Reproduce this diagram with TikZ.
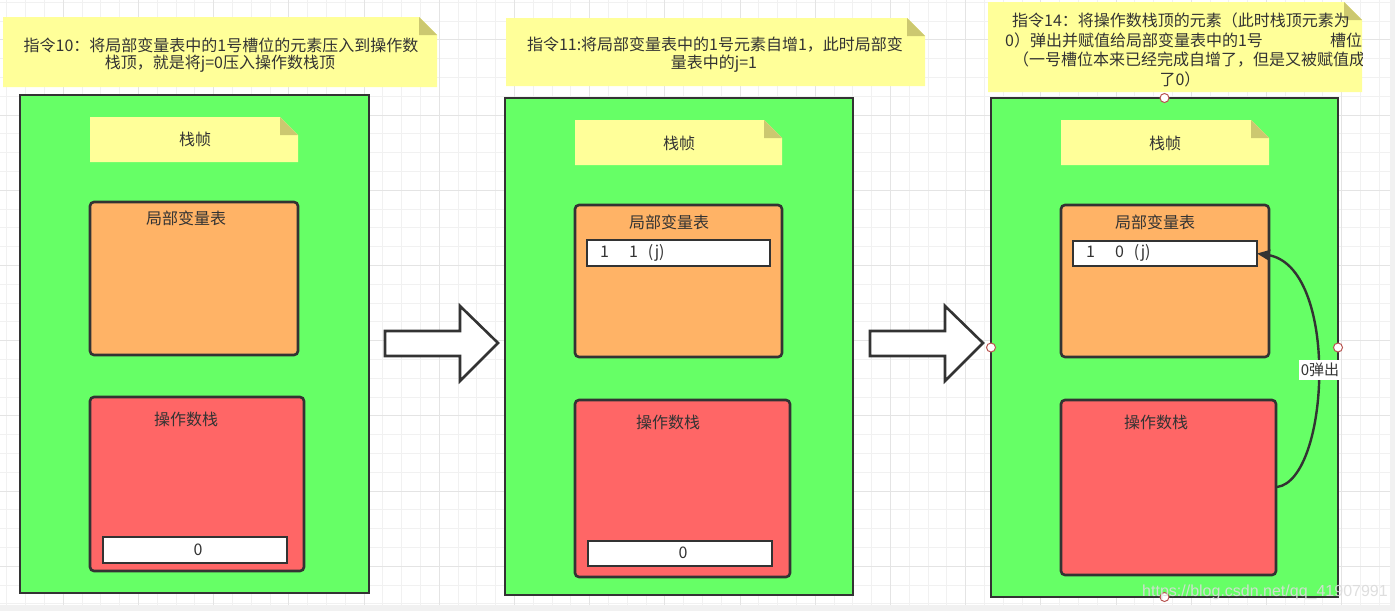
\documentclass[tikz,border=0pt]{standalone}
\usepackage{fontspec}
\setmainfont{Noto Sans CJK SC}
\newfontfamily\wmfont{Liberation Sans}
\usetikzlibrary{arrows.meta}
\definecolor{pgreen}{HTML}{66FF66}
\definecolor{porange}{HTML}{FFB366}
\definecolor{pred}{HTML}{FF6666}
\definecolor{pnote}{HTML}{FFFF99}
\definecolor{pfold}{RGB}{204,200,112}
\definecolor{pstroke}{HTML}{333333}
\definecolor{ptext}{HTML}{333333}
\definecolor{gridminor}{HTML}{F1F1F1}
\definecolor{gridmajor}{HTML}{E4E4E4}
\definecolor{handle}{RGB}{184,84,80}
\tikzset{
  bx/.style={rectangle, inner sep=0pt, outer sep=0pt, anchor=north west},
  panel/.style={bx, draw=pstroke, line width=2.6pt, fill=pgreen},
  obox/.style={bx, draw=pstroke, line width=2.6pt, fill=porange, rounded corners=4pt},
  rbox/.style={bx, draw=pstroke, line width=2.6pt, fill=pred, rounded corners=4pt},
  field/.style={bx, draw=pstroke, line width=2.8pt, fill=white},
  notebase/.style={bx},
  txt/.style={text=ptext, font=\fontsize{16}{20}\selectfont, inner sep=0pt},
  blockarrow/.style={draw=pstroke, line width=2.6pt, fill=white, line join=miter},
  hdl/.style={circle, draw=handle, fill=white, line width=1pt, minimum size=9pt, inner sep=0pt},
  popline/.style={draw=pstroke, line width=2.4pt, -{Stealth[length=13pt,width=11pt,inset=2pt]}},
  poplabel/.style={txt, fill=white, inner xsep=1.5pt, inner ysep=3pt, font=\fontsize{15}{18}\selectfont}
}
\newcommand\mkbox[6]{\node[#2, minimum width={(#5-#3)*1pt}, minimum height={(#6-#4)*1pt}] (#1) at (#3,#4) {};}
\newcommand\mknote[5]{%
  \node[notebase, minimum width={(#4-#2)*1pt}, minimum height={(#5-#3)*1pt}] (#1) at (#2,#3) {};
  \fill[pnote] (#1.north west) -- ([xshift=-18pt]#1.north east) -- ([yshift=-18pt]#1.north east) -- (#1.south east) -- (#1.south west) -- cycle;
  \fill[pfold] ([xshift=-18pt]#1.north east) -- ([yshift=-18pt]#1.north east) -- ([xshift=-18pt,yshift=-18pt]#1.north east) -- cycle;
}
\begin{document}
\begin{tikzpicture}[x=1pt,y=-1pt]
\useasboundingbox (0,0) rectangle (1395,611);
\fill[white] (0,0) rectangle (1395,611);
% grid
\foreach \i in {0,...,73} {\draw[gridminor, line width=1pt] (6.9+18.8*\i,0) -- (6.9+18.8*\i,605);}
\foreach \j in {0,...,32} {\draw[gridminor, line width=1pt] (0,2.2+18.8*\j) -- (1390,2.2+18.8*\j);}
\foreach \i in {0,...,17} {\draw[gridmajor, line width=1pt] (63.3+75.2*\i,0) -- (63.3+75.2*\i,605);}
\foreach \j in {0,...,7} {\draw[gridmajor, line width=1pt] (0,39.8+75.2*\j) -- (1390,39.8+75.2*\j);}
\fill[gridminor] (0,605) rectangle (1395,611);
\fill[gridminor] (1390,0) rectangle (1395,611);

% ---------- panel 1 ----------
\mknote{n1}{3}{17}{437}{87}
\node[txt] (n1a) at (221,45) {指令10：将局部变量表中的1号槽位的元素压入到操作数};
\node[txt] (n1b) at (220,64) {栈顶，就是将j=0压入操作数栈顶};
\mkbox{p1}{panel}{20}{95}{369}{593}
\mknote{s1}{90}{117}{298}{162}
\node[txt] (s1t) at (195,139) {栈帧};
\mkbox{o1}{obox}{90}{202}{298}{355}
\node[txt] (o1t) at (186,218) {局部变量表};
\mkbox{r1}{rbox}{90}{397}{304}{571}
\node[txt] (r1t) at (186,419) {操作数栈};
\mkbox{f1}{field}{103}{537}{287}{563}
\node[txt] (f1t) at (198,550) {0};

% arrow 1
\draw[blockarrow] (385,331) -- (460,331) -- (460,306) -- (498,343) -- (460,381) -- (460,356) -- (385,356) -- cycle;

% ---------- panel 2 ----------
\mknote{n2}{506}{18}{925}{86}
\node[txt] (n2a) at (715,45) {指令11:将局部变量表中的1号元素自增1，此时局部变};
\node[txt] (n2b) at (714,64) {量表中的j=1};
\mkbox{p2}{panel}{505}{98}{853}{595}
\mknote{s2}{575}{120}{782}{165}
\node[txt] (s2t) at (679,143) {栈帧};
\mkbox{o2}{obox}{575}{205}{782}{357}
\node[txt] (o2t) at (669,222) {局部变量表};
\mkbox{f2}{field}{587}{240}{770}{266}
\node[txt, anchor=west] (f2t) at (600,253) {1\hspace{20pt}1\hspace{10pt}(j)};
\mkbox{r2}{rbox}{575}{400}{790}{577}
\node[txt] (r2t) at (668,422) {操作数栈};
\mkbox{f3}{field}{588}{541}{772}{566}
\node[txt] (f3t) at (683,553) {0};

% arrow 2
\draw[blockarrow] (870,331) -- (945,331) -- (945,306) -- (983,343) -- (945,381) -- (945,356) -- (870,356) -- cycle;

% ---------- panel 3 ----------
\mknote{n3}{988}{2}{1362}{92}
\begin{scope}
\clip (988,2) rectangle (1362,92);
\node[txt, anchor=west] (n3a) at (1012,20) {指令14：将操作数栈顶的元素（此时栈顶元素为};
\node[txt, anchor=west] (n3b) at (1005,40) {0）弹出并赋值给局部变量表中的1号};
\node[txt, anchor=west] (n3c) at (1330,40) {槽位};
\node[txt, anchor=west] (n3d) at (1013,60) {（一号槽位本来已经完成自增了，但是又被赋值成};
\node[txt] (n3e) at (1180,79) {了0）};
\end{scope}
\mkbox{p3}{panel}{991}{98}{1338}{597}
\mknote{s3}{1061}{120}{1269}{165}
\node[txt] (s3t) at (1165,143) {栈帧};
\mkbox{o3}{obox}{1061}{205}{1269}{357}
\node[txt] (o3t) at (1155,222) {局部变量表};
\mkbox{f4}{field}{1073}{241}{1257}{266}
\node[txt, anchor=west] (f4t) at (1086,253) {1\hspace{20pt}0\hspace{10pt}(j)};
\mkbox{r3}{rbox}{1061}{400}{1276}{575}
\node[txt] (r3t) at (1156,422) {操作数栈};
\coordinate (popstart) at (1277,487);
\draw[popline] (popstart) .. controls (1330,480) and (1340,265) .. (f4.east);
\node[poplabel] (pop) at (1320,370) {0弹出};

% selection handles
\node[hdl] (h1) at (p3.north) {};
\node[hdl] (h2) at (p3.west) {};
\node[hdl] (h3) at (p3.east) {};
\node[hdl] (h4) at (p3.south) {};

% watermark
\node[inner sep=0pt, text=white!86!black, opacity=0.9, font=\wmfont\fontsize{16}{18}\selectfont] (wm) at (1265,592) {https://blog.csdn.net/qq\_41907991};
\end{tikzpicture}
\end{document}
